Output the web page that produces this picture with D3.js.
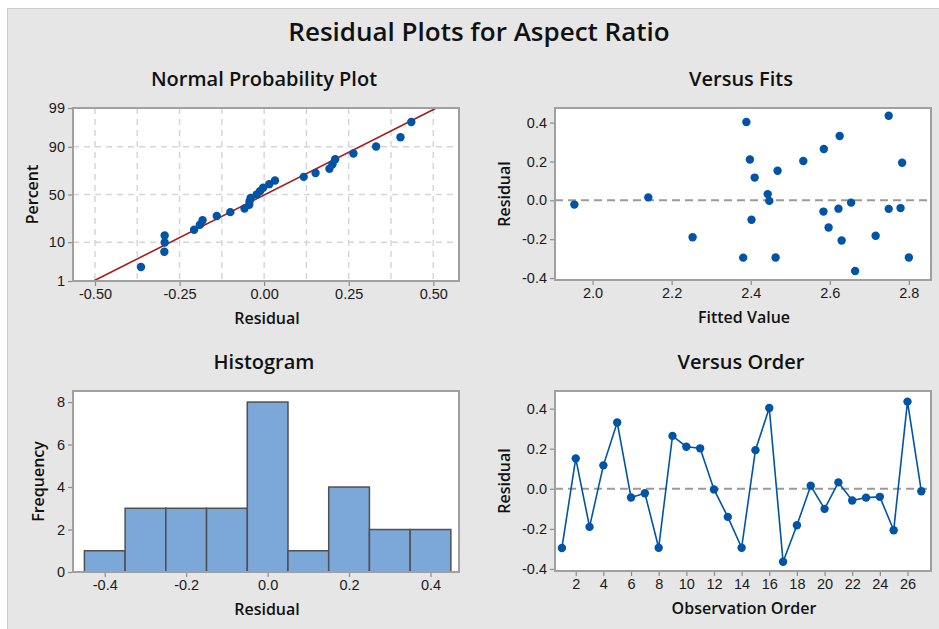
<!DOCTYPE html>
<html>
<head>
<meta charset="utf-8">
<script src="https://cdn.jsdelivr.net/npm/d3@7"></script>
<style>
  body { margin: 0; background: #fff; }
  svg { display: block; font-family: "Open Sans", "Noto Sans", sans-serif; }
  .tick text { fill: #1a1a1a; font-size: 14.5px; }
  .tick line { stroke: #8c8c8c; stroke-width: 1.2; }
</style>
</head>
<body>
<svg id="chart" width="939" height="629"></svg>
<script>
// residuals and fitted values, in observation order 1..27
const residuals = [-0.295, 0.152, -0.190, 0.117, 0.331, -0.043, -0.022, -0.294, 0.264, 0.210,
                   0.202, -0.003, -0.140, -0.294, 0.193, 0.403, -0.364, -0.182, 0.015, -0.100,
                   0.032, -0.058, -0.044, -0.040, -0.207, 0.435, -0.012];
const fits = [2.381, 2.468, 2.253, 2.410, 2.625, 2.622, 1.954, 2.463, 2.585, 2.398,
              2.533, 2.447, 2.597, 2.800, 2.783, 2.389, 2.664, 2.716, 2.141, 2.402,
              2.443, 2.584, 2.749, 2.779, 2.630, 2.749, 2.654];

const percentTicks = [1, 10, 50, 90, 99];
const normXTicks = [-0.5, -0.25, 0, 0.25, 0.5];
const normGridX = [-0.5, -0.375, -0.25, -0.125, 0, 0.125, 0.25, 0.375, 0.5];
const histEdges = [-0.45, -0.35, -0.25, -0.15, -0.05, 0.05, 0.15, 0.25, 0.35, 0.45];
const histXTicks = [-0.4, -0.2, 0, 0.2, 0.4];
const histYTicks = [0, 2, 4, 6, 8];
const fitXTicks = [2.0, 2.2, 2.4, 2.6, 2.8];
const residTicks = [-0.4, -0.2, 0, 0.2, 0.4];
const orderTicks = [2, 4, 6, 8, 10, 12, 14, 16, 18, 20, 22, 24, 26];

const blue = '#0054a6';
const svg = d3.select('#chart');

// gray backdrop
svg.append('rect')
  .attr('x', 7.5).attr('y', 8.5)
  .attr('width', 940).attr('height', 630)
  .attr('fill', '#e6e6e6')
  .attr('stroke', '#cccccc');

svg.append('text')
  .attr('x', 479).attr('y', 41)
  .attr('text-anchor', 'middle')
  .attr('font-size', 26)
  .attr('font-weight', 600)
  .attr('fill', '#111')
  .text('Residual Plots for Aspect Ratio');

// inverse normal cdf (Acklam)
function qnorm(p) {
  const a = [-3.969683028665376e+01, 2.209460984245205e+02, -2.759285104469687e+02, 1.383577518672690e+02, -3.066479806614716e+01, 2.506628277459239e+00];
  const b = [-5.447609879822406e+01, 1.615858368580409e+02, -1.556989798598866e+02, 6.680131188771972e+01, -1.328068155288572e+01];
  const c = [-7.784894002430293e-03, -3.223964580411365e-01, -2.400758277161838e+00, -2.549732539343734e+00, 4.374664141464968e+00, 2.938163982698783e+00];
  const d = [7.784695709041462e-03, 3.224671290700398e-01, 2.445134137142996e+00, 3.754408661907416e+00];
  const pl = 0.02425;
  let q, r;
  if (p < pl) {
    q = Math.sqrt(-2 * Math.log(p));
    return (((((c[0]*q+c[1])*q+c[2])*q+c[3])*q+c[4])*q+c[5]) / ((((d[0]*q+d[1])*q+d[2])*q+d[3])*q+1);
  } else if (p <= 1 - pl) {
    q = p - 0.5; r = q * q;
    return (((((a[0]*r+a[1])*r+a[2])*r+a[3])*r+a[4])*r+a[5])*q / (((((b[0]*r+b[1])*r+b[2])*r+b[3])*r+b[4])*r+1);
  } else {
    q = Math.sqrt(-2 * Math.log(1 - p));
    return -(((((c[0]*q+c[1])*q+c[2])*q+c[3])*q+c[4])*q+c[5]) / ((((d[0]*q+d[1])*q+d[2])*q+d[3])*q+1);
  }
}

// draws panel background and titles, returns group
function panel(box, title, xLabel, yLabel, yLabelX) {
  const g = svg.append('g');
  g.append('rect')
    .attr('x', box.l).attr('y', box.t)
    .attr('width', box.r - box.l).attr('height', box.b - box.t)
    .attr('fill', '#fff');
  g.append('text')
    .attr('x', (box.l + box.r) / 2 - 2).attr('y', box.t - 22)
    .attr('text-anchor', 'middle')
    .attr('font-size', 20).attr('font-weight', 600).attr('fill', '#111')
    .text(title);
  g.append('text')
    .attr('x', (box.l + box.r) / 2 + 1).attr('y', box.b + 43)
    .attr('text-anchor', 'middle')
    .attr('font-size', 16).attr('font-weight', 600).attr('fill', '#111')
    .text(xLabel);
  g.append('text')
    .attr('transform', `translate(${yLabelX},${(box.t + box.b) / 2}) rotate(-90)`)
    .attr('text-anchor', 'middle')
    .attr('font-size', 16).attr('font-weight', 600).attr('fill', '#111')
    .text(yLabel);
  return g;
}

function frame(g, box) {
  g.append('rect')
    .attr('x', box.l).attr('y', box.t)
    .attr('width', box.r - box.l).attr('height', box.b - box.t)
    .attr('fill', 'none')
    .attr('stroke', '#a0a0a0').attr('stroke-width', 2);
}

function axes(g, box, x, y, xTicks, yTicks, xFmt, yFmt) {
  g.append('g')
    .attr('transform', `translate(0,${box.b + 1})`)
    .call(d3.axisBottom(x).tickValues(xTicks).tickFormat(xFmt).tickSize(4).tickSizeOuter(0).tickPadding(3))
    .call(a => a.select('.domain').remove());
  g.append('g')
    .attr('transform', `translate(${box.l - 1},0)`)
    .call(d3.axisLeft(y).tickValues(yTicks).tickFormat(yFmt).tickSize(4).tickSizeOuter(0).tickPadding(3))
    .call(a => a.select('.domain').remove());
}

function zeroLine(g, box, y) {
  g.append('line')
    .attr('x1', box.l).attr('x2', box.r)
    .attr('y1', y(0)).attr('y2', y(0))
    .attr('stroke', '#9a9a9a').attr('stroke-width', 2)
    .attr('stroke-dasharray', '8,5');
}

// ---- Normal probability plot
{
  const box = { l: 73, r: 459, t: 108, b: 281 };
  const g = panel(box, 'Normal Probability Plot', 'Residual', 'Percent', 38);
  const x = d3.scaleLinear().domain([-0.565, 0.576]).range([box.l, box.r]);
  const y = d3.scaleLinear().domain([qnorm(0.01), qnorm(0.99)]).range([box.b, box.t]);

  g.append('g').selectAll('line.gx')
    .data(normGridX).join('line')
    .attr('x1', d => x(d)).attr('x2', d => x(d))
    .attr('y1', box.t).attr('y2', box.b)
    .attr('stroke', '#d6d6d6').attr('stroke-width', 1.5).attr('stroke-dasharray', '6,5');
  g.append('g').selectAll('line.gy')
    .data([10, 50, 90]).join('line')
    .attr('x1', box.l).attr('x2', box.r)
    .attr('y1', d => y(qnorm(d / 100))).attr('y2', d => y(qnorm(d / 100)))
    .attr('stroke', '#d6d6d6').attr('stroke-width', 1.5).attr('stroke-dasharray', '6,5');

  const mu = d3.mean(residuals), sd = d3.deviation(residuals);
  const zLo = qnorm(0.01), zHi = qnorm(0.99);
  g.append('line')
    .attr('x1', x(mu + zLo * sd)).attr('y1', y(zLo))
    .attr('x2', x(mu + zHi * sd)).attr('y2', y(zHi))
    .attr('stroke', '#a51d1d').attr('stroke-width', 1.6);

  const sorted = residuals.slice().sort(d3.ascending);
  const n = sorted.length;
  g.append('g').selectAll('circle')
    .data(sorted).join('circle')
    .attr('cx', d => x(d))
    .attr('cy', (d, i) => y(qnorm((i + 1 - 0.3) / (n + 0.4))))
    .attr('r', 4.2).attr('fill', blue);

  frame(g, box);
  axes(g, box, x, y, normXTicks, percentTicks.map(p => qnorm(p / 100)),
    d => d.toFixed(2), (d, i) => percentTicks[i]);
}

// ---- Versus fits
{
  const box = { l: 555, r: 931, t: 108, b: 280 };
  const g = panel(box, 'Versus Fits', 'Fitted Value', 'Residual', 510);
  const x = d3.scaleLinear().domain([1.905, 2.856]).range([box.l, box.r]);
  const y = d3.scaleLinear().domain([-0.41, 0.475]).range([box.b, box.t]);
  zeroLine(g, box, y);
  g.append('g').selectAll('circle')
    .data(fits).join('circle')
    .attr('cx', d => x(d))
    .attr('cy', (d, i) => y(residuals[i]))
    .attr('r', 4.2).attr('fill', blue);
  frame(g, box);
  axes(g, box, x, y, fitXTicks, residTicks, d => d.toFixed(1), d => d.toFixed(1));
}

// ---- Histogram
{
  const box = { l: 73, r: 459, t: 391, b: 572 };
  const g = panel(box, 'Histogram', 'Residual', 'Frequency', 44);
  const x = d3.scaleLinear().domain([-0.478, 0.47]).range([box.l, box.r]);
  const y = d3.scaleLinear().domain([0, 8.52]).range([box.b, box.t]);
  const bins = d3.bin()
    .domain([histEdges[0], histEdges[histEdges.length - 1]])
    .thresholds(histEdges.slice(1, -1))(residuals);
  g.append('g').selectAll('rect')
    .data(bins).join('rect')
    .attr('x', d => x(d.x0)).attr('width', d => x(d.x1) - x(d.x0))
    .attr('y', d => y(d.length)).attr('height', d => y(0) - y(d.length))
    .attr('fill', '#7ba7d9').attr('stroke', '#505050').attr('stroke-width', 1.5);
  frame(g, box);
  axes(g, box, x, y, histXTicks, histYTicks, d => d.toFixed(1), d => d);
}

// ---- Versus order
{
  const box = { l: 555, r: 931, t: 391, b: 571 };
  const g = panel(box, 'Versus Order', 'Observation Order', 'Residual', 510);
  const x = d3.scaleLinear().domain([0.5, 27.7]).range([box.l, box.r]);
  const y = d3.scaleLinear().domain([-0.41, 0.488]).range([box.b, box.t]);
  zeroLine(g, box, y);
  g.append('path')
    .datum(residuals)
    .attr('d', d3.line().x((d, i) => x(i + 1)).y(d => y(d)))
    .attr('fill', 'none').attr('stroke', blue).attr('stroke-width', 1.6);
  g.append('g').selectAll('circle')
    .data(residuals).join('circle')
    .attr('cx', (d, i) => x(i + 1))
    .attr('cy', d => y(d))
    .attr('r', 4.2).attr('fill', blue);
  frame(g, box);
  axes(g, box, x, y, orderTicks, residTicks, d => d, d => d.toFixed(1));
}
</script>
</body>
</html>
